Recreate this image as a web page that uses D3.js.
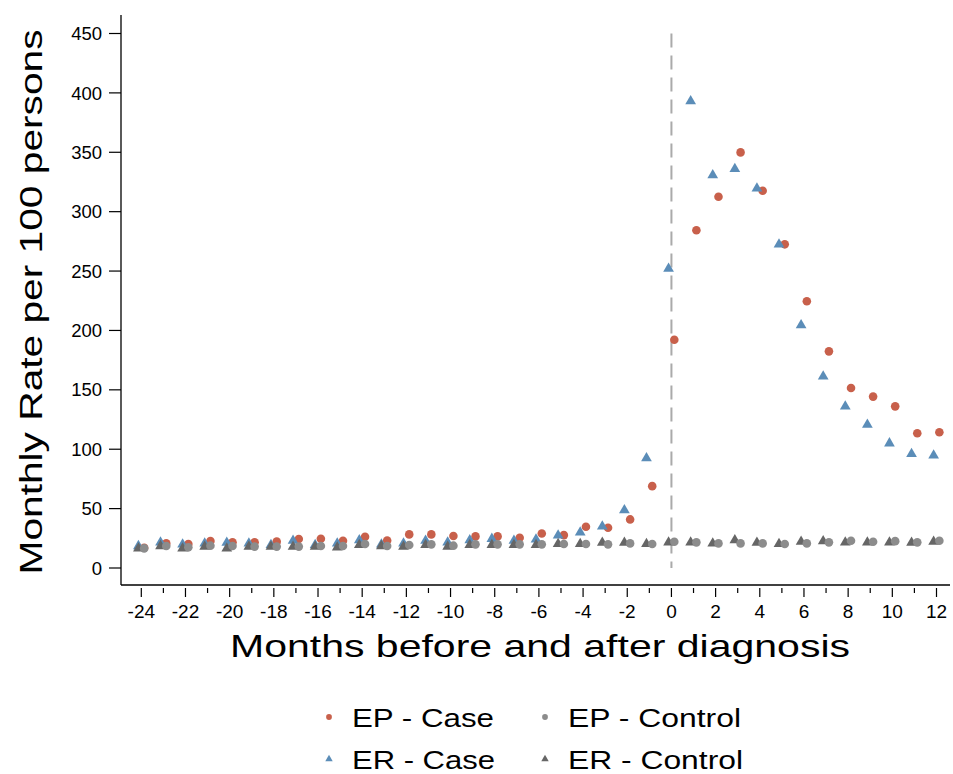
<!DOCTYPE html>
<html>
<head>
<meta charset="utf-8">
<script src="https://cdn.jsdelivr.net/npm/d3@7"></script>
<style>
  body { margin: 0; background: #fff; }
  svg text { font-family: 'Liberation Sans', Arial, sans-serif; fill: #000; }
</style>
</head>
<body>
<div id="chart"></div>
<script>
const months = [-24, -23, -22, -21, -20, -19, -18, -17, -16, -15, -14, -13, -12, -11, -10, -9, -8, -7, -6,
  -5, -4, -3, -2, -1, 0, 1, 2, 3, 4, 5, 6, 7, 8, 9, 10, 11, 12];

const epCase = [17, 20.7, 20.2, 22.7, 21.6, 21.6, 22.2, 24.4, 24.6, 22.9, 26.3, 23.2, 28.3, 28.3, 26.9,
  26.6, 26.6, 25.5, 29.1, 27.7, 34.7, 33.9, 40.9, 68.9, 192.2, 284.3, 312.6, 349.9, 317.6, 272.5,
  224.6, 182.4, 151.5, 144.3, 136.1, 113.4, 114.3];
const erCase = [18.5, 21.6, 19.9, 20.7, 21.3, 20.7, 19.5, 23, 19.5, 20.7, 23.5, 19.9, 20.7, 23, 21.6,
  23.5, 24.6, 23, 24, 27.4, 30, 35, 48.7, 92.4, 252, 393, 330.8, 336, 319.6, 272.5,
  204.5, 161.3, 136.1, 120.7, 105, 96, 94.7];
const epControl = [16.5, 18.5, 17.4, 18.8, 18.5, 18, 18, 18, 18.5, 18.5, 20.2, 18.5, 19.3, 19.9, 18.8,
  19.9, 19.9, 19.9, 19.9, 20.2, 20.2, 19.9, 20.7, 20.2, 22.1, 21.6, 20.7, 20.7, 20.7, 20.2,
  20.7, 21.6, 23, 22.1, 22.6, 21.6, 23];
const erControl = [16.5, 18.5, 16.5, 18, 16.5, 18, 18, 18, 18, 17.4, 19.4, 18.5, 18, 19.4, 18,
  19.4, 19.4, 19.4, 19.4, 20.2, 20.2, 21.3, 21.3, 20.2, 21.6, 21.6, 20.7, 23.5, 21.3, 20.2,
  22.1, 22.6, 21.6, 21.6, 21.6, 21.3, 22.1];

const yTicks = [0, 50, 100, 150, 200, 250, 300, 350, 400, 450];
const xLabelTicks = [-24, -22, -20, -18, -16, -14, -12, -10, -8, -6, -4, -2, 0, 2, 4, 6, 8, 10, 12];

const series = [
  { name: 'EP - Case', values: epCase, shape: 'circle', color: '#c8604b', dodge: 0.13 },
  { name: 'ER - Case', values: erCase, shape: 'triangle', color: '#5b8db8', dodge: -0.13 },
  { name: 'ER - Control', values: erControl, shape: 'triangle', color: '#666666', dodge: -0.13 },
  { name: 'EP - Control', values: epControl, shape: 'circle', color: '#8c8c8c', dodge: 0.13 },
];

const width = 953;
const height = 774;

const x = d3.scaleLinear().domain([-24, 12]).range([141.3, 936.5]);
const y = d3.scaleLinear().domain([0, 450]).range([568, 33.5]);

const svg = d3.select('#chart').append('svg')
  .attr('width', width)
  .attr('height', height);

// axis lines
const axisLeftX = 121;
const axisBottomY = 585;
svg.append('line')
  .attr('x1', axisLeftX).attr('x2', axisLeftX)
  .attr('y1', 15).attr('y2', axisBottomY)
  .attr('stroke', '#000').attr('stroke-width', 1.3);
svg.append('line')
  .attr('x1', axisLeftX).attr('x2', 950)
  .attr('y1', axisBottomY).attr('y2', axisBottomY)
  .attr('stroke', '#000').attr('stroke-width', 1.3);

// y ticks
const yg = svg.append('g');
yg.selectAll('line').data(yTicks).enter().append('line')
  .attr('x1', 109).attr('x2', axisLeftX)
  .attr('y1', d => y(d)).attr('y2', d => y(d))
  .attr('stroke', '#000').attr('stroke-width', 1.2);
yg.selectAll('text').data(yTicks).enter().append('text')
  .attr('x', 102)
  .attr('y', d => y(d))
  .attr('dy', '0.36em')
  .attr('text-anchor', 'end')
  .style('font-size', '18.5px')
  .text(d => d);

// x ticks
const xg = svg.append('g');
xg.selectAll('line').data(months).enter().append('line')
  .attr('x1', d => x(d)).attr('x2', d => x(d))
  .attr('y1', 588)
  .attr('y2', d => (d % 2 === 0 ? 597 : 593))
  .attr('stroke', '#000').attr('stroke-width', 1.2);
xg.selectAll('text').data(xLabelTicks).enter().append('text')
  .attr('x', d => x(d))
  .attr('y', 618)
  .attr('text-anchor', 'middle')
  .style('font-size', '19px')
  .text(d => d);

// axis titles
svg.append('text')
  .attr('x', 540)
  .attr('y', 657)
  .attr('text-anchor', 'middle')
  .attr('textLength', 620)
  .attr('lengthAdjust', 'spacingAndGlyphs')
  .style('font-size', '32px')
  .text('Months before and after diagnosis');

svg.append('text')
  .attr('transform', 'translate(42,302) rotate(-90)')
  .attr('text-anchor', 'middle')
  .attr('textLength', 545)
  .attr('lengthAdjust', 'spacingAndGlyphs')
  .style('font-size', '32px')
  .text('Monthly Rate per 100 persons');

// reference line at diagnosis
svg.append('line')
  .attr('x1', x(0)).attr('x2', x(0))
  .attr('y1', y(450)).attr('y2', y(0))
  .attr('stroke', '#aaaaaa')
  .attr('stroke-width', 2)
  .attr('stroke-dasharray', '14,8');

// points
const sym = {
  circle: d3.symbol().type(d3.symbolCircle).size(58),
  triangle: d3.symbol().type(d3.symbolTriangle).size(50),
};

series.forEach((s) => {
  svg.append('g').selectAll('path')
    .data(s.values.map((v, i) => ({ m: months[i], v })))
    .enter().append('path')
    .attr('d', sym[s.shape]())
    .attr('transform', d => `translate(${x(d.m + s.dodge)},${y(d.v)})`)
    .attr('fill', s.color);
});

// legend
const legendItems = [
  { name: 'EP - Case', shape: 'circle', color: '#c8604b', col: 0, row: 0, w: 142 },
  { name: 'EP - Control', shape: 'circle', color: '#8c8c8c', col: 1, row: 0, w: 173 },
  { name: 'ER - Case', shape: 'triangle', color: '#5b8db8', col: 0, row: 1, w: 143 },
  { name: 'ER - Control', shape: 'triangle', color: '#666666', col: 1, row: 1, w: 175 },
];
const legendSym = {
  circle: d3.symbol().type(d3.symbolCircle).size(26),
  triangle: d3.symbol().type(d3.symbolTriangle).size(24),
};
const lg = svg.append('g');
legendItems.forEach((d) => {
  const lx = 329 + d.col * 216;
  const ly = 717 + d.row * 42;
  lg.append('path')
    .attr('d', legendSym[d.shape]())
    .attr('transform', `translate(${lx},${ly})`)
    .attr('fill', d.color);
  lg.append('text')
    .attr('x', lx + 23)
    .attr('y', ly + 9.5)
    .attr('textLength', d.w)
    .attr('lengthAdjust', 'spacingAndGlyphs')
    .style('font-size', '25.5px')
    .text(d.name);
});
</script>
</body>
</html>
